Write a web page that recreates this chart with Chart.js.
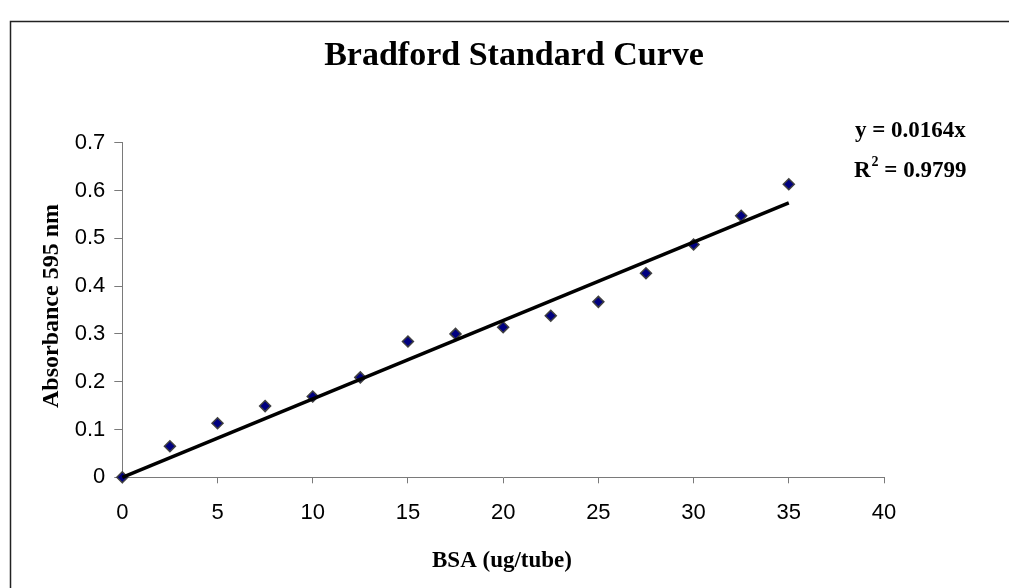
<!DOCTYPE html>
<html>
<head>
<meta charset="utf-8">
<script src="https://cdn.jsdelivr.net/npm/chart.js@4.4.1/dist/chart.umd.min.js"></script>
<style>
  html, body { margin: 0; padding: 0; background: #fff; }
  #wrap { position: relative; width: 1009px; height: 588px; }
</style>
</head>
<body>
<div id="wrap"><canvas id="bradfordChart" width="1009" height="588"></canvas></div>
<script>
/* =========================
   DATA
========================= */
const bsaAmounts = [0, 2.5, 5, 7.5, 10, 12.5, 15, 17.5, 20, 22.5, 25, 27.5, 30, 32.5, 35];
const absorbance = [0, 0.065, 0.113, 0.149, 0.169, 0.209, 0.284, 0.300, 0.314, 0.338, 0.367, 0.427, 0.487, 0.547, 0.613];

// linear fit through origin, y = 0.0164x
const trendX = [0, 35];
const trendY = [0, 0.574];

const xTicks = [0, 5, 10, 15, 20, 25, 30, 35, 40];
const yTicks = [0, 0.1, 0.2, 0.3, 0.4, 0.5, 0.6, 0.7];

const chartTitle = "Bradford Standard Curve";
const xTitle = "BSA (ug/tube)";
const yTitle = "Absorbance 595 nm";
const eqLine = "y = 0.0164x";
const r2Value = " = 0.9799";

/* =========================
   TEXT + FRAME PLUGIN
========================= */
const SERIF = "'Liberation Serif', 'Times New Roman', serif";

const labelsPlugin = {
  id: "labelsPlugin",
  afterDraw(chart) {
    const ctx = chart.ctx;
    ctx.save();

    // outer frame (only left and top edges are in view)
    ctx.strokeStyle = "#222";
    ctx.lineWidth = 1.5;
    ctx.beginPath();
    ctx.moveTo(10.5, 588);
    ctx.lineTo(10.5, 21.5);
    ctx.lineTo(1009, 21.5);
    ctx.stroke();

    ctx.fillStyle = "#000";

    // title
    ctx.font = "bold 34px " + SERIF;
    ctx.textAlign = "center";
    ctx.textBaseline = "alphabetic";
    ctx.fillText(chartTitle, 514, 65);

    // x axis title
    ctx.font = "bold 23px " + SERIF;
    ctx.fillText(xTitle, 502, 567);

    // y axis title
    ctx.save();
    ctx.translate(58, 306);
    ctx.rotate(-Math.PI / 2);
    ctx.font = "bold 24px " + SERIF;
    ctx.fillText(yTitle, 0, 0);
    ctx.restore();

    // trendline equation
    ctx.textAlign = "left";
    ctx.font = "bold 23px " + SERIF;
    ctx.fillText(eqLine, 855, 137);
    ctx.fillText("R", 854, 177);
    const rW = ctx.measureText("R").width;
    ctx.font = "bold 14px " + SERIF;
    ctx.fillText("2", 854 + rW + 1, 166);
    const sW = ctx.measureText("2").width;
    ctx.font = "bold 23px " + SERIF;
    ctx.fillText(r2Value, 854 + rW + sW + 1, 177);

    ctx.restore();
  }
};

/* =========================
   CHART
========================= */
const axisGray = "#7a7a7a";
const tickFont = { family: "'Liberation Sans', Arial, sans-serif", size: 22 };

new Chart(document.getElementById("bradfordChart"), {
  type: "scatter",
  data: {
    datasets: [
      {
        label: "Trend",
        data: trendX.map((x, i) => ({ x, y: trendY[i] })),
        showLine: true,
        borderColor: "#000",
        borderWidth: 3.5,
        pointRadius: 0,
        fill: false,
        order: 0,
        clip: false
      },
      {
        label: "Standards",
        data: bsaAmounts.map((x, i) => ({ x, y: absorbance[i] })),
        pointStyle: "rectRot",
        pointRadius: 5.5,
        backgroundColor: "#000080",
        borderColor: "#404040",
        borderWidth: 1.5,
        order: 1,
        clip: false
      }
    ]
  },
  options: {
    responsive: false,
    animation: false,
    layout: { padding: { top: 142.7, right: 125, bottom: 0, left: 0 } },
    plugins: {
      legend: { display: false },
      tooltip: { enabled: false },
      title: { display: false }
    },
    scales: {
      x: {
        type: "linear",
        min: xTicks[0],
        max: xTicks[xTicks.length - 1],
        afterBuildTicks: s => { s.ticks = xTicks.map(v => ({ value: v })); },
        afterFit: s => { s.height = 110.7; },
        ticks: { color: "#000", font: tickFont, padding: 16, maxRotation: 0 },
        grid: { drawOnChartArea: false, drawTicks: true, tickLength: 6, color: axisGray },
        border: { display: true, color: axisGray, width: 1 }
      },
      y: {
        type: "linear",
        min: yTicks[0],
        max: yTicks[yTicks.length - 1],
        afterBuildTicks: s => { s.ticks = yTicks.map(v => ({ value: v })); },
        afterFit: s => { s.width = 122.3; },
        ticks: { color: "#000", font: tickFont, padding: 9, callback: v => String(Math.round(v * 10) / 10) },
        grid: { drawOnChartArea: false, drawTicks: true, tickLength: 8, color: axisGray },
        border: { display: true, color: axisGray, width: 1 }
      }
    }
  },
  plugins: [labelsPlugin]
});
</script>
</body>
</html>
